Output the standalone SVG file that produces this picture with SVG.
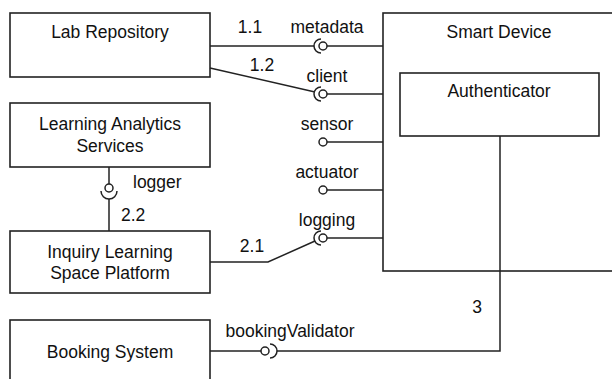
<svg xmlns="http://www.w3.org/2000/svg" width="612" height="379" viewBox="0 0 612 379">
<style>
.box{fill:#fff;stroke:#222;stroke-width:1.6}
.ln{fill:none;stroke:#222;stroke-width:1.5}
text{font-family:"Liberation Sans",Arial,Helvetica,sans-serif;font-size:17.5px;fill:#111}
.c{text-anchor:middle}
</style>
<rect width="612" height="379" fill="#fff"/>
<g id="smart-device">
<rect class="box" x="383" y="13" width="240" height="258"/>
<text class="c" x="499" y="38">Smart Device</text>
</g>
<g id="authenticator">
<rect class="box" x="400" y="73" width="199" height="63"/>
<text class="c" x="499" y="97">Authenticator</text>
</g>
<g id="lab-repository">
<rect class="box" x="10" y="13" width="200" height="64"/>
<text class="c" x="110" y="38">Lab Repository</text>
</g>
<g id="learning-analytics">
<rect class="box" x="10" y="103" width="200" height="64"/>
<text class="c" x="110" y="130">Learning Analytics</text>
<text class="c" x="110" y="152">Services</text>
</g>
<g id="inquiry-learning">
<rect class="box" x="10" y="231" width="200" height="62"/>
<text class="c" x="110" y="258">Inquiry Learning</text>
<text class="c" x="110" y="279">Space Platform</text>
</g>
<g id="booking-system">
<rect class="box" x="10" y="320" width="200" height="70"/>
<text class="c" x="110" y="358">Booking System</text>
</g>
<g id="connectors">
<!-- provided interfaces on Smart Device -->
<line class="ln" x1="327" y1="46" x2="383" y2="46"/>
<circle class="ln" cx="323" cy="46" r="4"/>
<line class="ln" x1="327" y1="94" x2="383" y2="94"/>
<circle class="ln" cx="323" cy="94" r="4"/>
<line class="ln" x1="327" y1="142" x2="383" y2="142"/>
<circle class="ln" cx="323" cy="142" r="4"/>
<line class="ln" x1="327" y1="190" x2="383" y2="190"/>
<circle class="ln" cx="323" cy="190" r="4"/>
<line class="ln" x1="327" y1="238" x2="383" y2="238"/>
<circle class="ln" cx="323" cy="238" r="4"/>
<!-- sockets -->
<path class="ln" d="M321,39 A7,7 0 0 0 321,53"/>
<path class="ln" d="M321,87 A7,7 0 0 0 321,101"/>
<path class="ln" d="M321,231 A7,7 0 0 0 321,245"/>
<!-- 1.1 -->
<line class="ln" x1="210" y1="46" x2="314" y2="46"/>
<!-- 1.2 -->
<line class="ln" x1="210" y1="68" x2="315" y2="92"/>
<!-- 2.1 -->
<polyline class="ln" points="210,262 268,262 315,241"/>
<!-- logger / 2.2 -->
<line class="ln" x1="109" y1="167" x2="109" y2="184"/>
<circle class="ln" cx="109" cy="188" r="4"/>
<path class="ln" d="M101,191 A8,8 0 0 0 117,191"/>
<line class="ln" x1="109" y1="199" x2="109" y2="231"/>
<!-- bookingValidator / 3 -->
<line class="ln" x1="210" y1="351" x2="261" y2="351"/>
<circle class="ln" cx="265" cy="351" r="4"/>
<path class="ln" d="M270,344 A7,7 0 0 1 270,358"/>
<polyline class="ln" points="277,351 500,351 500,136"/>
</g>
<g id="labels">
<text class="c" x="327" y="33">metadata</text>
<text class="c" x="250" y="33">1.1</text>
<text class="c" x="327" y="82">client</text>
<text class="c" x="262" y="71">1.2</text>
<text class="c" x="327" y="130">sensor</text>
<text class="c" x="327" y="178">actuator</text>
<text class="c" x="327" y="226">logging</text>
<text x="133" y="188">logger</text>
<text x="121" y="221">2.2</text>
<text class="c" x="252" y="252">2.1</text>
<text class="c" x="290" y="337">bookingValidator</text>
<text class="c" x="477" y="313">3</text>
</g>
</svg>
